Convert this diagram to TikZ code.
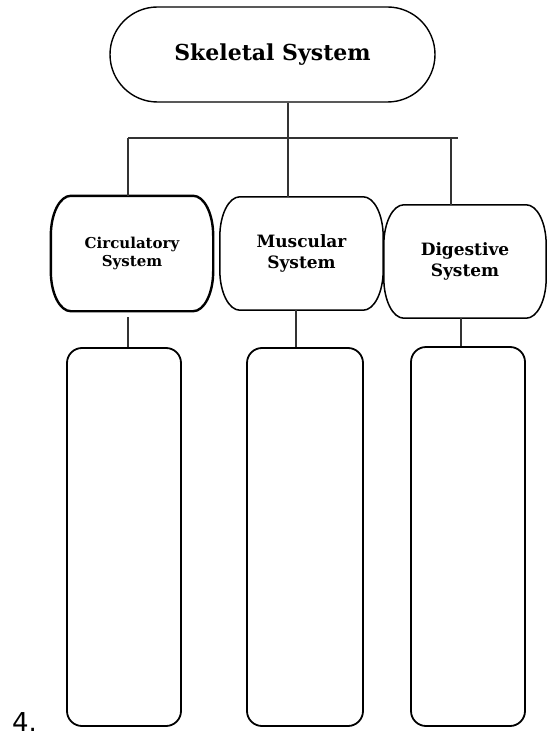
\documentclass[tikz,border=0pt]{standalone}
\usepackage{fontspec}
\setmainfont{DejaVu Serif}
\newfontfamily\numfont{DejaVu Sans}
\usetikzlibrary{shapes.misc}

% outline with elliptical corners for the second-level boxes
\newcommand\sysframe[2][]{%
  \draw[#1] ([xshift=20pt]#2.north west) -- ([xshift=-20pt]#2.north east)
    arc[start angle=90,end angle=0,x radius=20pt,y radius=40pt]
    -- ([yshift=40pt]#2.south east)
    arc[start angle=0,end angle=-90,x radius=20pt,y radius=40pt]
    -- ([xshift=20pt]#2.south west)
    arc[start angle=270,end angle=180,x radius=20pt,y radius=40pt]
    -- ([yshift=-40pt]#2.north west)
    arc[start angle=180,end angle=90,x radius=20pt,y radius=40pt]
    -- cycle;}

\begin{document}
\begin{tikzpicture}[x=1pt,y=-1pt,
  rootbox/.style={rounded rectangle,draw,line width=1.4pt,inner sep=0pt,
    minimum width=325pt,minimum height=95pt,font=\bfseries\fontsize{22}{26}\selectfont},
  sysbox/.style={inner sep=0pt,align=center,font=\bfseries\fontsize{17}{21.5}\selectfont},
  listbox/.style={draw,rounded corners=15pt,line width=1.8pt,inner sep=0pt,
    minimum width=114pt,minimum height=378pt},
  conn/.style={line width=1.1pt,draw=black!80}]

\useasboundingbox (0,0) rectangle (547,738);

% top of the hierarchy
\node[rootbox] (skel) at (272.5,54.5) {Skeletal System};

% second level
\node[sysbox,minimum width=162pt,minimum height=115pt,
  font=\bfseries\fontsize{15}{18}\selectfont] (circ) at (132,253.5)
  {Circulatory\\System};
\node[sysbox,minimum width=163pt,minimum height=113pt] (musc) at (301.5,253.5)
  {Muscular\\System};
\node[sysbox,minimum width=162pt,minimum height=113pt] (dig) at (465,261.5)
  {Digestive\\System};
\sysframe[line width=2.4pt]{circ}
\sysframe[line width=1.5pt]{musc}
\sysframe[line width=1.5pt]{dig}

% empty answer boxes
\node[listbox] (boxL) at (124,537) {};
\node[listbox,minimum width=116pt] (boxM) at (305,537) {};
\node[listbox,minimum height=379pt] (boxR) at (468,536.5) {};

% question number
\node[anchor=base west,inner sep=0pt,font=\numfont\fontsize{26}{30}\selectfont]
  (num) at (12,731) {4.};

% branching connectors
\coordinate (hub) at (288,138);
\coordinate (hl) at (128,138);
\coordinate (hr) at (458,138);
\coordinate (dr) at (451,138);
\draw[conn] (skel.south -| hub) -- (hub);
\draw[conn] (hl) -- (hr);
\draw[conn] (hl) -- (hl |- circ.north);
\draw[conn] (hub) -- (hub |- musc.north);
\draw[conn] (dr) -- (dr |- dig.north);

% links down to the answer boxes
\coordinate (cl) at (128,0);
\coordinate (cm) at (296,0);
\coordinate (cr) at (461,0);
\draw[conn,shorten <=6pt] (circ.south -| cl) -- (boxL.north -| cl);
\draw[conn] (musc.south -| cm) -- (boxM.north -| cm);
\draw[conn] (dig.south -| cr) -- (boxR.north -| cr);
\end{tikzpicture}
\end{document}
